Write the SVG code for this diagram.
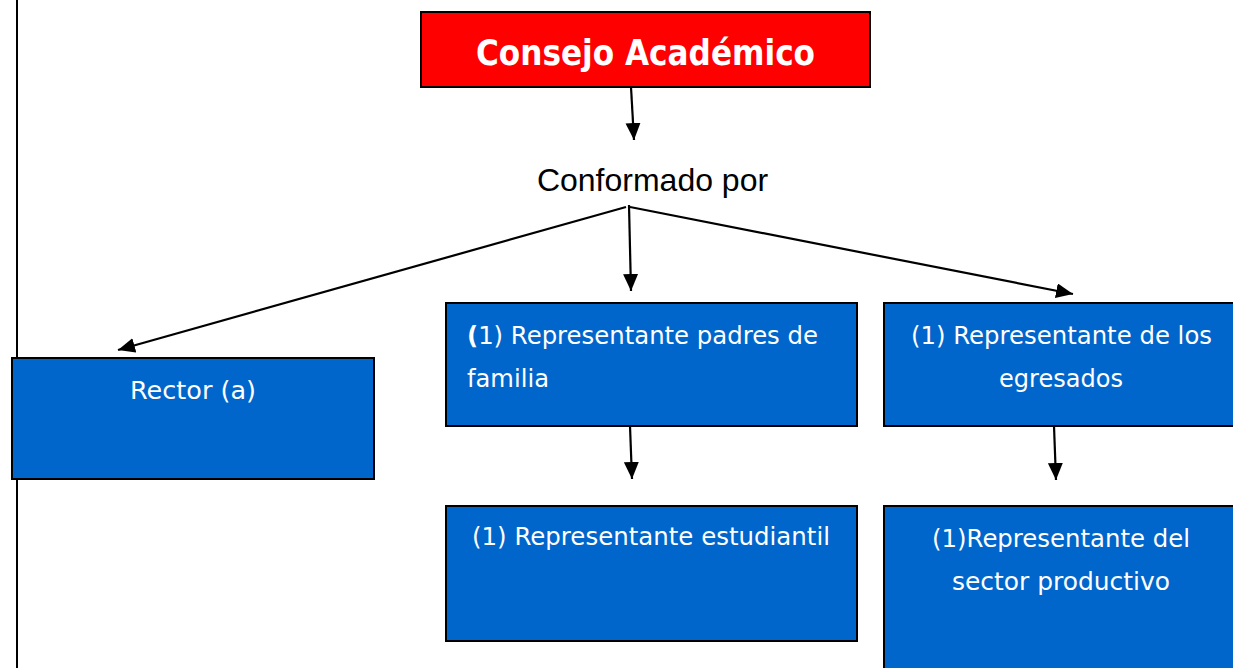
<svg xmlns="http://www.w3.org/2000/svg" width="1233" height="668" viewBox="0 0 1233 668">
<style>
.box{fill:#0066CC;stroke:#000;stroke-width:2}
.lbl{font-family:"DejaVu Sans",sans-serif;font-size:25px;fill:#fff}
.c{text-anchor:middle}
.con{stroke:#000;stroke-width:2.2;fill:none;marker-end:url(#ah)}
</style>
<defs>
<marker id="ah" markerUnits="userSpaceOnUse" markerWidth="18" markerHeight="16" refX="17" refY="7.5" orient="auto">
<polygon points="0,0 17,7.5 0,15" fill="#000"/>
</marker>
</defs>
<rect width="1233" height="668" fill="#fff"/>
<line x1="17" y1="0" x2="17" y2="668" stroke="#000" stroke-width="2"/>
<g id="consejo">
<rect x="421" y="12" width="449" height="75" fill="#FF0000" stroke="#000" stroke-width="2"/>
<text x="645.5" y="65" text-anchor="middle" font-family="DejaVu Sans,sans-serif" font-weight="bold" font-size="35" fill="#fff" textLength="339" lengthAdjust="spacingAndGlyphs">Consejo Académico</text>
</g>
<g id="conformado">
<text x="652.5" y="191" text-anchor="middle" font-family="Liberation Sans,Arial,sans-serif" font-size="32" fill="#000">Conformado por</text>
</g>
<g id="rector">
<rect class="box" x="12" y="358" width="362" height="121"/>
<text class="lbl c" x="193" y="399" textLength="126" lengthAdjust="spacingAndGlyphs">Rector (a)</text>
</g>
<g id="padres">
<rect class="box" x="446" y="303" width="411" height="123"/>
<text class="lbl" x="467" y="344" textLength="351" lengthAdjust="spacingAndGlyphs"><tspan font-weight="bold">(</tspan>1) Representante padres de</text>
<text class="lbl" x="467" y="387" textLength="82" lengthAdjust="spacingAndGlyphs">familia</text>
</g>
<g id="egresados">
<rect class="box" x="884" y="303" width="360" height="123"/>
<text class="lbl c" x="1061.5" y="344" textLength="301" lengthAdjust="spacingAndGlyphs">(1) Representante de los</text>
<text class="lbl c" x="1061" y="387" textLength="124" lengthAdjust="spacingAndGlyphs">egresados</text>
</g>
<g id="estudiantil">
<rect class="box" x="446" y="506" width="411" height="135"/>
<text class="lbl c" x="651" y="545" textLength="358" lengthAdjust="spacingAndGlyphs">(1) Representante estudiantil</text>
</g>
<g id="productivo">
<rect class="box" x="884" y="506" width="360" height="170"/>
<text class="lbl c" x="1061" y="547" textLength="258" lengthAdjust="spacingAndGlyphs">(1)Representante del</text>
<text class="lbl c" x="1061" y="590" textLength="218" lengthAdjust="spacingAndGlyphs">sector productivo</text>
</g>
<g id="connectors">
<line class="con" x1="631" y1="87" x2="634" y2="140"/>
<line class="con" x1="626" y1="207" x2="118" y2="350"/>
<line class="con" x1="629" y1="205" x2="631" y2="291"/>
<line class="con" x1="630" y1="207" x2="1073" y2="294"/>
<line class="con" x1="630" y1="426" x2="632" y2="479"/>
<line class="con" x1="1054" y1="426" x2="1056" y2="480"/>
</g>
</svg>
